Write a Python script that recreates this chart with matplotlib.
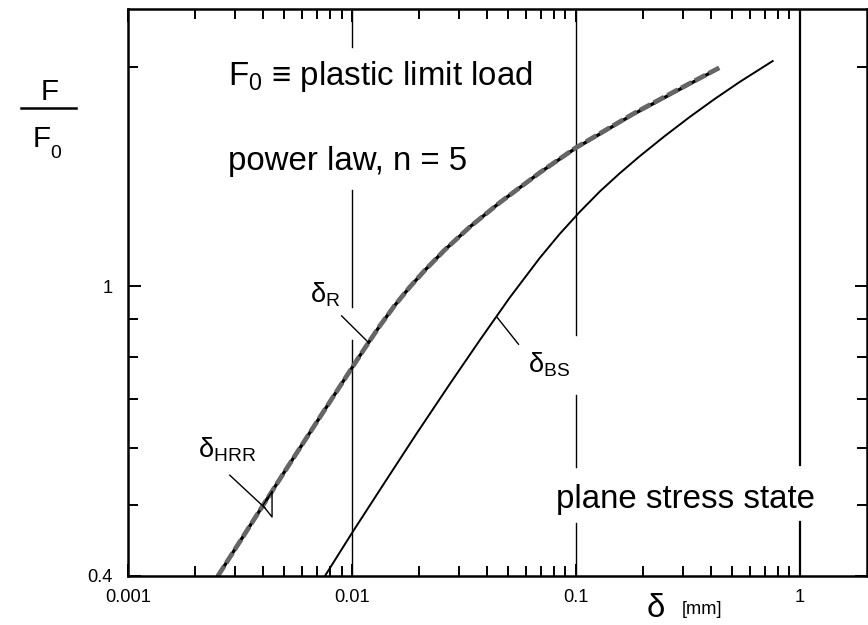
import matplotlib
matplotlib.use("Agg")
import matplotlib.pyplot as plt
from matplotlib import font_manager
from matplotlib.lines import Line2D
from matplotlib.ticker import FixedFormatter, NullFormatter

# curve readings, delta [mm] vs F/F0
delta_r = [0.00252, 0.00502, 0.01, 0.01143, 0.01334, 0.01556, 0.01815, 0.02118, 0.0260,
           0.0336, 0.0458, 0.0691, 0.099, 0.1797, 0.2767, 0.430]
force_r = [0.40, 0.557, 0.772, 0.822, 0.882, 0.941, 0.997, 1.051, 1.121,
           1.205, 1.302, 1.431, 1.543, 1.719, 1.846, 1.986]

delta_hrr = [0.00252, 0.00502, 0.01, 0.01143, 0.01334, 0.01556, 0.01815, 0.02118, 0.0260,
             0.0336, 0.0458, 0.0691, 0.099, 0.1797, 0.2767, 0.44]
force_hrr = [0.40, 0.557, 0.772, 0.822, 0.882, 0.941, 0.997, 1.051, 1.121,
             1.205, 1.302, 1.431, 1.545, 1.722, 1.850, 1.995]

delta_bs = [0.00758, 0.01, 0.01404, 0.0195, 0.0274, 0.0373, 0.0507, 0.0691, 0.0848,
            0.1042, 0.128, 0.1572, 0.193, 0.2496, 0.3228, 0.4174, 0.540, 0.758]
force_bs = [0.40, 0.458, 0.538, 0.628, 0.734, 0.843, 0.964, 1.093, 1.179,
            1.264, 1.348, 1.428, 1.507, 1.606, 1.706, 1.806, 1.906, 2.036]

x_ticks = [0.001, 0.01, 0.1, 1]
x_labels = ["0.001", "0.01", "0.1", "1"]
y_ticks = [0.4, 1]
y_labels = ["0.4", "1"]
y_minor = [0.5, 0.6, 0.7, 0.8, 0.9, 2]
x_minor = [m * d for d in (0.001, 0.01, 0.1) for m in range(2, 10)]

# vertical reference lines, drawn in pieces (gaps where text sits)
ref_lines = {
    0.01: [(2.13, 2.4), (0.936, 1.354), (0.4, 0.843)],
    0.1: [(0.857, 2.4), (0.565, 0.709), (0.4, 0.473)],
    1: [(0.568, 2.4), (0.4, 0.475)],
}

names = {f.name for f in font_manager.fontManager.ttflist}
if "Liberation Sans Narrow" in names:
    FONT = "Liberation Sans Narrow"
    k = 1.0
elif "Liberation Sans" in names:
    FONT = "Liberation Sans"
    k = 0.82
else:
    FONT = "DejaVu Sans"
    k = 0.74

plt.rcParams["font.family"] = [FONT, "DejaVu Sans"]
plt.rcParams["mathtext.fontset"] = "custom"
plt.rcParams["mathtext.rm"] = FONT
plt.rcParams["mathtext.it"] = FONT
plt.rcParams["mathtext.default"] = "rm"

fig = plt.figure(figsize=(8.68, 6.25), dpi=100)
ax = fig.add_axes([128 / 868, 49 / 625, 739 / 868, 567 / 625])
ax.set_xscale("log")
ax.set_yscale("log")

for x, segs in ref_lines.items():
    for y0, y1 in segs:
        ax.plot([x, x], [y0, y1], color="black", lw=1.6 if x == 1 else 1.0)

ax.plot(delta_bs, force_bs, color="black", lw=1.4)
ax.plot(delta_r, force_r, color="black", lw=2.4)
ax.plot(delta_hrr, force_hrr, color="0.4", lw=3.4, dashes=(2.5, 0.8))

# labels with leader lines
big = 29 * k
ax.text(0.0065, 0.948, "δ$_R$", fontsize=24 * k)
ax.plot([0.0090, 0.0118], [0.910, 0.838], color="black", lw=1)
ax.text(0.00205, 0.581, "δ$_{HRR}$", fontsize=24 * k)
ax.plot([0.00285, 0.00409], [0.550, 0.496], color="black", lw=1)
ax.plot([0.0044, 0.0044, 0.0040, 0.0044], [0.522, 0.482, 0.50, 0.522], color="black", lw=1)
ax.text(0.061, 0.762, "δ$_{BS}$", fontsize=24 * k)
ax.plot([0.0444, 0.0555], [0.907, 0.832], color="black", lw=1)

ax.text(0.0028, 1.887, "F$_0$ ≡ plastic limit load", fontsize=big)
ax.text(0.0028, 1.443, "power law, n = 5", fontsize=big)
ax.text(0.0814, 0.496, "plane stress state", fontsize=big)

ax.set_xlim(0.001, 2)
ax.set_ylim(0.4, 2.4)
ax.set_xticks(x_ticks)
ax.set_xticks(x_minor, minor=True)
ax.xaxis.set_major_formatter(FixedFormatter(x_labels))
ax.xaxis.set_minor_formatter(NullFormatter())
ax.set_yticks(y_ticks)
ax.set_yticks(y_minor, minor=True)
ax.yaxis.set_major_formatter(FixedFormatter(y_labels))
ax.yaxis.set_minor_formatter(NullFormatter())

ax.tick_params(which="both", direction="in", top=True, right=True, width=1.4)
ax.tick_params(which="major", length=9, labelsize=16 * k)
ax.tick_params(which="minor", length=7)
ax.tick_params(axis="x", pad=9)
ax.tick_params(axis="y", pad=11)
for s in ax.spines.values():
    s.set_linewidth(1.8)

# axis titles
fig.text(647 / 868, 1 - 617 / 625, "δ", fontsize=29 * k)
fig.text(682 / 868, 1 - 614 / 625, "[mm]", fontsize=16 * k)
fig.text(50 / 868, 1 - 100 / 625, "F", fontsize=26 * k, ha="center")
fig.add_artist(Line2D([21 / 868, 76 / 868], [1 - 108 / 625] * 2, color="black", lw=1.8))
fig.text(33 / 868, 1 - 147 / 625, "F", fontsize=26 * k)
fig.text(50 / 868, 1 - 158 / 625, "0", fontsize=17 * k)

fig.savefig("out.png", dpi=100)
